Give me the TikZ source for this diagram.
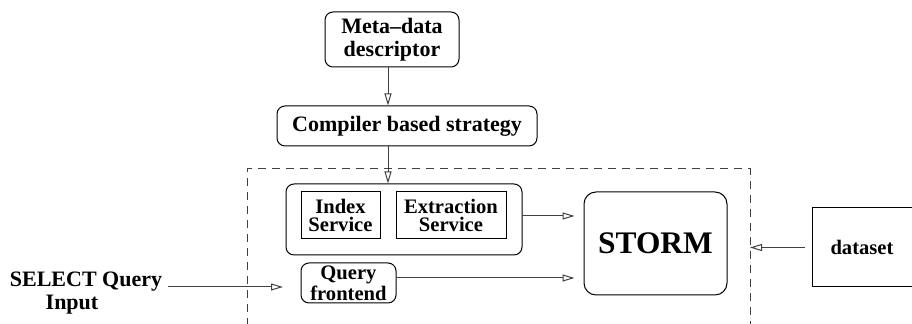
\documentclass[tikz,border=0pt]{standalone}
\usepackage{fontspec}
\setmainfont{Liberation Serif}
\usetikzlibrary{arrows.meta}
\tikzset{
  caja/.style={draw, rounded corners=4pt, line width=0.5pt, align=center, inner sep=0pt},
  servicio/.style={draw, line width=0.5pt, align=center, inner sep=0pt,
    font=\fontsize{10.3}{9}\selectfont\bfseries},
  flecha/.style={draw=black!75, line width=0.5pt, -{Triangle[open, length=6pt, width=3.5pt]}}
}
\begin{document}
\begin{tikzpicture}[x=0.5pt, y=-0.5pt, font=\fontsize{11}{11.5}\selectfont\bfseries]
  \clip (0,0) rectangle (912,324);

  % Descriptor y estrategia
  \node[caja, minimum width=67pt, minimum height=27.5pt] (meta) at (392,39.5) {Meta--data\\descriptor};
  \node[caja, minimum width=130pt, minimum height=20pt] (compilador) at (407,126) {Compiler based strategy};

  % Zona punteada
  \draw[dashed, dash pattern=on 4pt off 3pt, line width=0.5pt, black!75] (247,340) |- (750,169) -- (750,340);

  % Servicios
  \node[caja, minimum width=118pt, minimum height=35.5pt] (servicios) at (404,219.5) {};
  \node[servicio, minimum width=39.5pt, minimum height=23.5pt] (indice) at (340.5,215.5) {Index\\Service};
  \node[servicio, minimum width=55pt, minimum height=23.5pt] (extraccion) at (451,215.5) {Extraction\\Service};
  \node[caja, font=\fontsize{10.3}{9}\selectfont\bfseries, minimum width=47.5pt, minimum height=20pt] (consulta) at (348.5,283) {Query\\frontend};

  % STORM
  \node[caja, rounded corners=6pt, font=\fontsize{15.7}{16}\selectfont\bfseries, minimum width=71.5pt, minimum height=51.5pt] (storm) at (655.5,243.5) {STORM};

  % Datos
  \node[draw, line width=0.5pt, anchor=west, text width=50pt, inner xsep=9pt, minimum height=39.5pt,
    font=\fontsize{10.3}{11}\selectfont\bfseries] (datos) at (812,247.5) {dataset};

  % Entrada
  \node[align=center, inner sep=0pt] (select) at (86,293) {SELECT Query\\Input\hspace*{14pt}};
  \coordinate (entrada) at (283,287);
  \coordinate (borde) at (750,247.5);
  \coordinate (s1) at (522,216);
  \coordinate (s2) at (396,278);

  % Flechas
  \draw[flecha] ([xshift=-2pt]meta.south) -- ([xshift=-2pt]meta.south |- compilador.north);
  \draw[flecha] ([xshift=-2pt]meta.south |- compilador.south) -- ([xshift=-2pt]meta.south |- servicios.north);
  \draw[flecha, shorten >=4.5pt] (s1) -- (s1 -| storm.west);
  \draw[flecha, shorten >=4.5pt] (s2) -- (s2 -| storm.west);
  \draw[flecha, shorten <=3pt] (select.east |- entrada) -- (entrada);
  \draw[flecha, shorten <=3.5pt] (datos.west) -- (borde);
\end{tikzpicture}
\end{document}
